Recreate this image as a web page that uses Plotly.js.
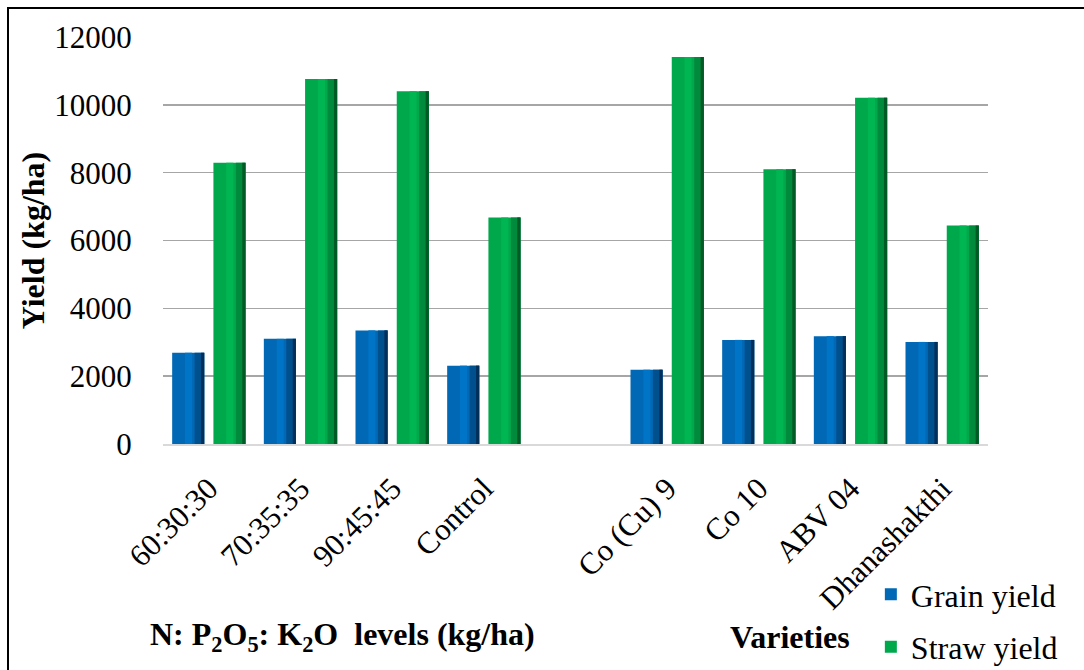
<!DOCTYPE html>
<html>
<head>
<meta charset="utf-8">
<script src="https://cdn.plot.ly/plotly-3.0.1.min.js"></script>
<style>
  html, body { margin: 0; padding: 0; background: #fff; }
  #wrap { position: relative; width: 1084px; height: 670px; }
  #chart { width: 1084px; height: 670px; }
  #frame { position: absolute; left: 7px; top: 7px; right: -5px; bottom: -5px;
           border-left: 2.5px solid #000; border-top: 2.5px solid #000; pointer-events: none; }
</style>
</head>
<body>
<div id="wrap">
  <div id="chart"></div>
  <div id="frame"></div>
</div>
<script>
// Categories (blank slot separates the two groups)
const categories = ['60:30:30', '70:35:35', '90:45:45', 'Control', ' ', 'Co (Cu) 9', 'Co 10', 'ABV 04', 'Dhanashakthi'];
// Yield (kg/ha)
const grainYield = [2690, 3100, 3350, 2310, null, 2190, 3070, 3180, 3010];
const strawYield = [8290, 10760, 10400, 6680, null, 11410, 8100, 10210, 6440];
const seriesNames = ['Grain yield', 'Straw yield'];

const FONT = '"Liberation Serif", "Times New Roman", Times, serif';
const W = 0.35;          // bar width (category units)
const OFF_G = -0.40;     // grain bar offset
const OFF_S = 0.05;      // straw bar offset

function barSet(y, name, off, base, light, mid, dark, grp) {
  return [
    { type: 'bar', x: categories, y: y, name: name, offset: off, width: W,
      legendgroup: grp, marker: { color: base, line: { width: 0 } }, hoverinfo: 'x+y+name' },
    { type: 'bar', x: categories, y: y, offset: off + W * 0.40, width: W * 0.22,
      legendgroup: grp, showlegend: false, hoverinfo: 'skip',
      marker: { color: light, line: { width: 0 } } },
    { type: 'bar', x: categories, y: y, offset: off + W * 0.70, width: W * 0.30,
      legendgroup: grp, showlegend: false, hoverinfo: 'skip',
      marker: { color: mid, line: { width: 0 } } },
    { type: 'bar', x: categories, y: y, offset: off + W * 0.90, width: W * 0.10,
      legendgroup: grp, showlegend: false, hoverinfo: 'skip',
      marker: { color: dark, line: { width: 0 } } }
  ];
}

const data = [].concat(
  barSet(grainYield, seriesNames[0], OFF_G, '#0068B4', '#0074C6', '#00508E', '#00305A', 'g'),
  barSet(strawYield, seriesNames[1], OFF_S, '#00A84C', '#00B652', '#008A3C', '#005A26', 's')
);

const layout = {
  width: 1084, height: 670,
  margin: { l: 163, r: 96, t: 37, b: 226, autoexpand: false },
  paper_bgcolor: '#ffffff', plot_bgcolor: '#ffffff',
  barmode: 'overlay',
  showlegend: true,
  font: { family: FONT, color: '#000' },
  xaxis: {
    type: 'category',
    categoryorder: 'array', categoryarray: categories,
    tickangle: -45,
    tickfont: { family: FONT, size: 31, color: '#000' },
    ticks: 'outside', ticklen: 12, tickcolor: 'rgba(0,0,0,0)',
    showgrid: false, zeroline: false,
    showline: true, linecolor: '#D9D9D9', linewidth: 2,
    automargin: false,
    fixedrange: true
  },
  yaxis: {
    range: [0, 12000],
    tickvals: [0, 2000, 4000, 6000, 8000, 10000, 12000],
    ticktext: ['0', '2000', '4000', '6000', '8000', '10000', '12000'],
    tickfont: { family: FONT, size: 31, color: '#000' },
    ticks: 'outside', ticklen: 24, tickcolor: 'rgba(0,0,0,0)',
    showgrid: true, gridcolor: '#A6A6A6', gridwidth: 1.5,
    zeroline: false, showline: false,
    automargin: false,
    title: { text: '<b>Yield (kg/ha)</b>', font: { family: FONT, size: 32, color: '#000' }, standoff: 0 },
    fixedrange: true
  },
  legend: {
    x: 0.858, y: -0.302, xanchor: 'left', yanchor: 'top',
    orientation: 'v', traceorder: 'grouped', tracegroupgap: 8,
    font: { family: FONT, size: 32, color: '#000' },
    bgcolor: 'rgba(0,0,0,0)', itemwidth: 30
  },
  annotations: [
    { xref: 'paper', yref: 'paper', x: 0.218, y: -0.474, xanchor: 'center', yanchor: 'middle',
      text: '<b>N: P<sub>2</sub>O<sub>5</sub>: K<sub>2</sub>O  levels (kg/ha)</b>', showarrow: false,
      font: { family: FONT, size: 32, color: '#000' } },
    { xref: 'paper', yref: 'paper', x: 0.76, y: -0.474, xanchor: 'center', yanchor: 'middle',
      text: '<b>Varieties</b>', showarrow: false,
      font: { family: FONT, size: 32, color: '#000' } }
  ]
};

Plotly.newPlot('chart', data, layout, { displayModeBar: false, staticPlot: true });
</script>
</body>
</html>
